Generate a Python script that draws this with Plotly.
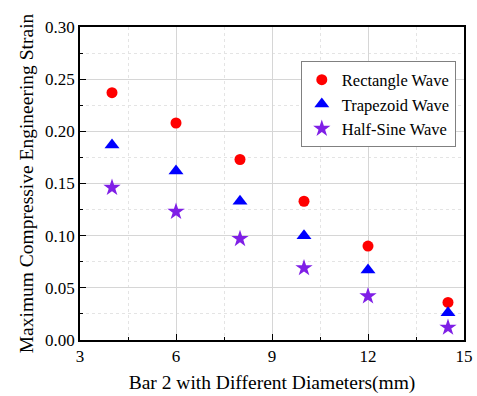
import plotly.graph_objects as go

diameters = [4, 6, 8, 10, 12, 14.5]
rect_wave = [0.237, 0.208, 0.173, 0.133, 0.090, 0.036]
trap_wave = [0.187, 0.162, 0.133, 0.100, 0.067, 0.026]
halfsine_wave = [0.146, 0.123, 0.097, 0.069, 0.042, 0.012]

x_ticks = [3, 6, 9, 12, 15]
y_ticks = [0.00, 0.05, 0.10, 0.15, 0.20, 0.25, 0.30]

font_family = "Times New Roman, Liberation Serif, DejaVu Serif, serif"

fig = go.Figure()
fig.add_trace(go.Scatter(x=diameters, y=rect_wave, mode="markers", name="Rectangle Wave",
                         marker=dict(symbol="circle", size=11, color="#ff0000")))
fig.add_trace(go.Scatter(x=diameters, y=trap_wave, mode="markers", name="Trapezoid Wave",
                         marker=dict(symbol="triangle-up", size=13, color="#0000ff")))
fig.add_trace(go.Scatter(x=diameters, y=halfsine_wave, mode="markers", name="Half-Sine Wave",
                         marker=dict(symbol="star", size=13, color="#7f1fe6")))

axis_common = dict(
    showline=True, linecolor="black", linewidth=1.5, mirror=True,
    ticks="inside", ticklen=6, tickwidth=1.2, tickcolor="black",
    showgrid=True, gridcolor="#d6d6d6", gridwidth=1,
    zeroline=False,
    tickfont=dict(family=font_family, size=17, color="black"),
    ticklabeloverflow="allow",
)

fig.update_xaxes(
    range=[3, 15], tickvals=x_ticks, ticktext=[str(v) for v in x_ticks],
    title=dict(text="Bar 2 with Different Diameters(mm)", font=dict(family=font_family, size=19.5, color="black"), standoff=10),
    minor=dict(dtick=1.5, tick0=3, ticks="inside", ticklen=3, tickcolor="black", showgrid=True, gridcolor="#e4e4e4", griddash="dot"),
    **axis_common,
)
fig.update_yaxes(
    range=[0, 0.30], tickvals=y_ticks, ticktext=[f"{v:.2f}" for v in y_ticks],
    title=dict(text="Maximum Compressive Engineering Strain", font=dict(family=font_family, size=19.5, color="black"), standoff=6),
    minor=dict(dtick=0.025, tick0=0, ticks="inside", ticklen=3, tickcolor="black", showgrid=True, gridcolor="#e4e4e4", griddash="dot"),
    **axis_common,
)

fig.update_layout(
    width=477, height=396,
    margin=dict(l=80, r=4, t=27, b=56),
    plot_bgcolor="white", paper_bgcolor="white",
    showlegend=True,
    legend=dict(x=0.575, y=0.89, xanchor="left", yanchor="top",
                bordercolor="#808080", borderwidth=1, bgcolor="white",
                font=dict(family=font_family, size=16.5, color="black"),
                tracegroupgap=0),
    font=dict(family=font_family),
)

fig.write_html("out.html")
